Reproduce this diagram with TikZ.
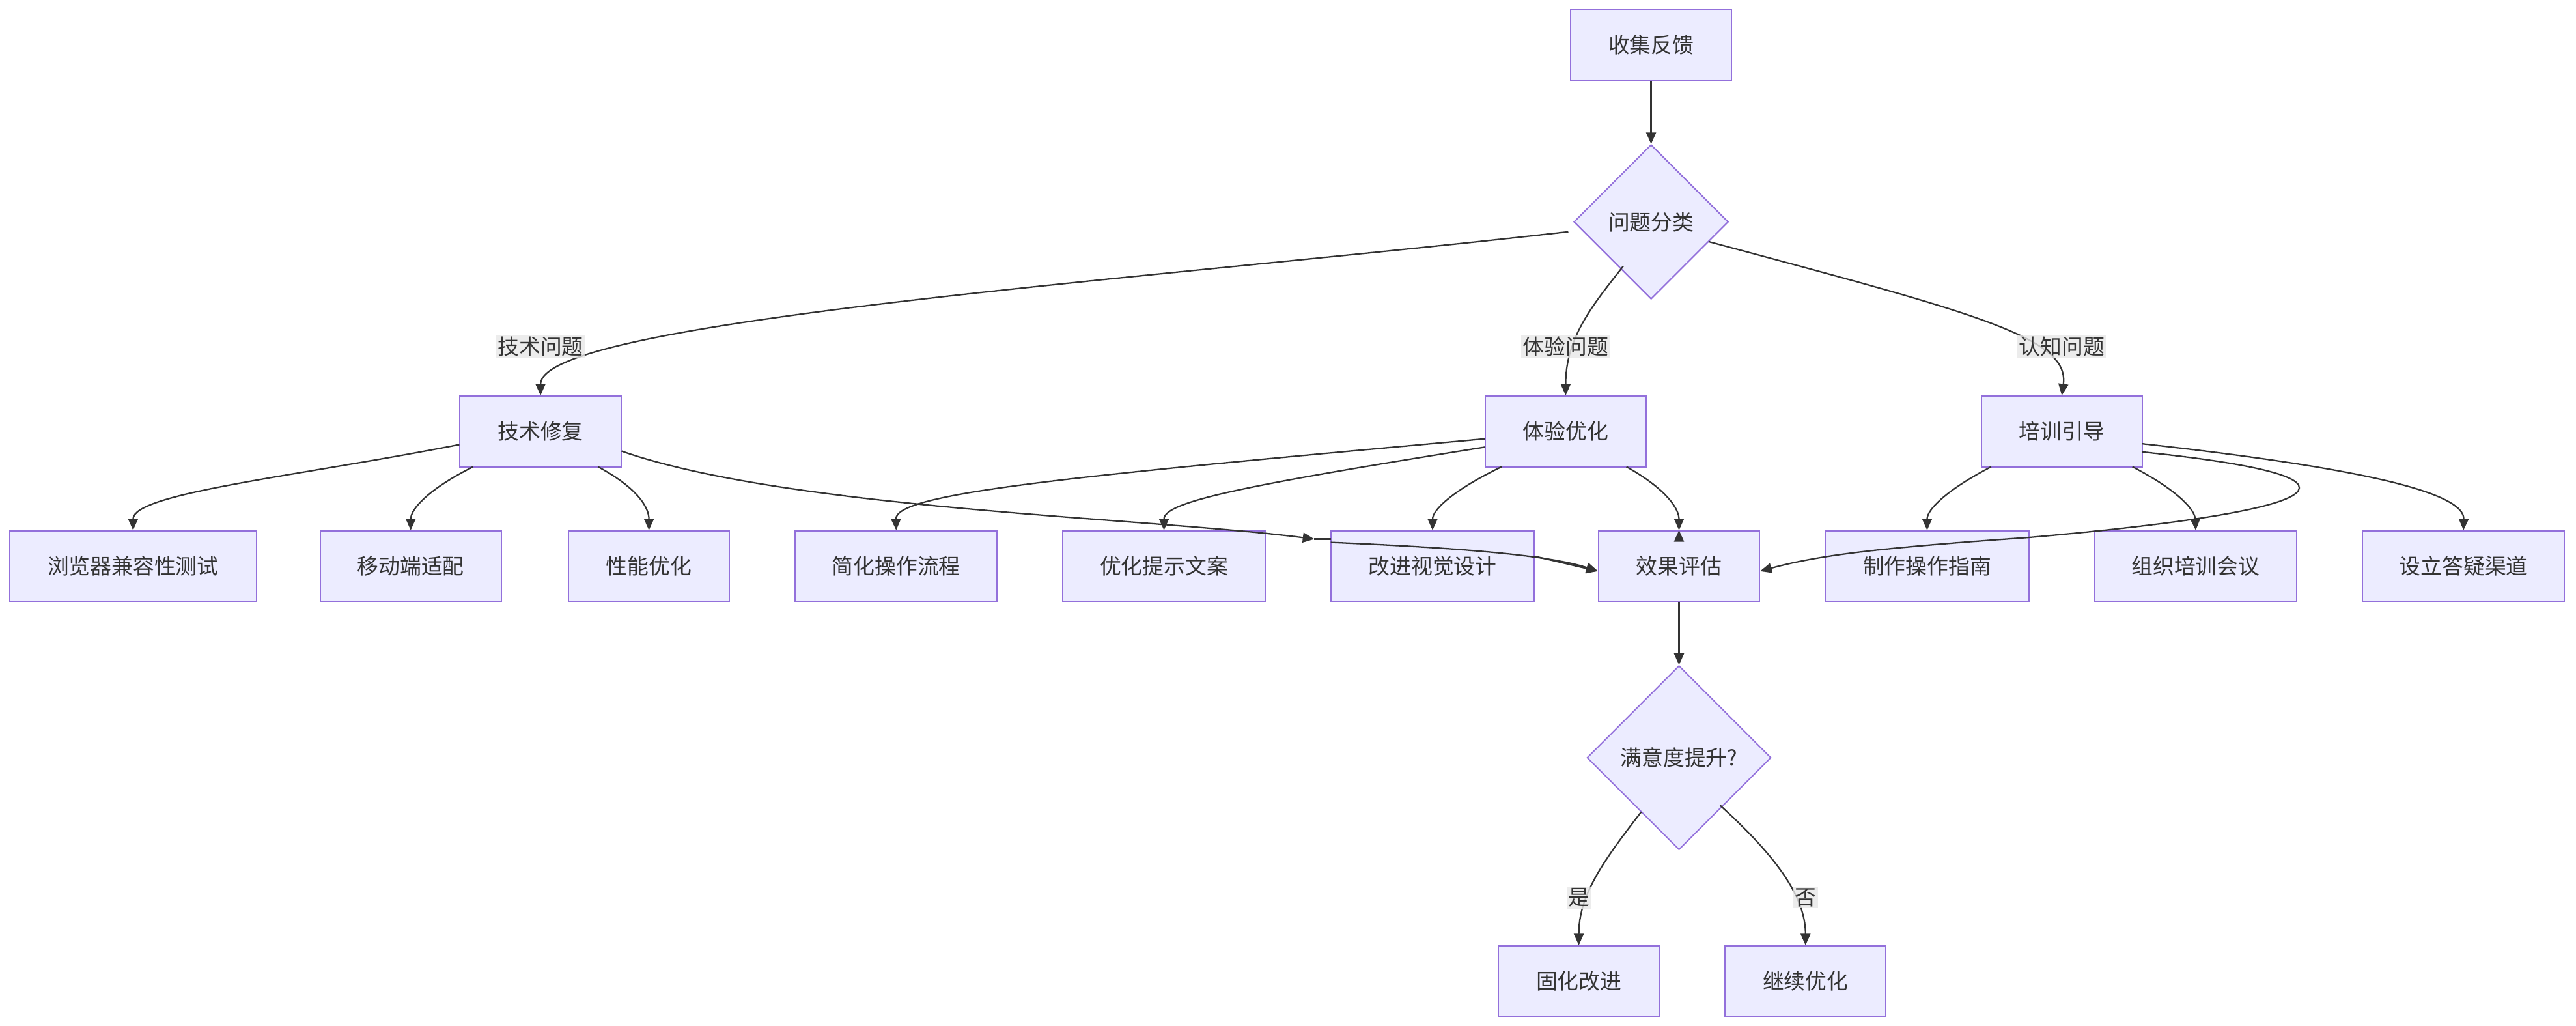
\documentclass[tikz,border=0pt]{standalone}
\usepackage{fontspec}
\setmainfont{Noto Sans CJK SC}
\usetikzlibrary{shapes.geometric,arrows.meta}
\definecolor{nf}{HTML}{ECECFF}
\definecolor{nb}{HTML}{9370DB}
\definecolor{ln}{HTML}{333333}
\definecolor{lb}{HTML}{E8E8E8}
\begin{document}
\begin{tikzpicture}[x=1pt,y=-1pt,
 box/.style={draw=nb,fill=nf,line width=0.8pt,minimum height=43pt,font=\fontsize{13}{15}\selectfont,text=ln,inner sep=0pt},
 dia/.style={draw=nb,fill=nf,line width=0.8pt,diamond,aspect=1,font=\fontsize{13}{15}\selectfont,text=ln,inner sep=0pt},
 lbl/.style={fill=lb,fill opacity=0.8,text opacity=1,font=\fontsize{13}{15}\selectfont,text=ln,inner sep=1pt},
 e/.style={draw=ln,line width=0.9pt,-{Triangle[length=7pt,width=6pt]}}]
\useasboundingbox[fill=white] (0,0) rectangle (1568,624);
\node[box,minimum width=98pt] (a) at (1005,27.5) {收集反馈};
\node[dia,minimum size=94pt] (q) at (1005,135) {问题分类};
\node[box,minimum width=98pt] (t) at (329,262.5) {技术修复};
\node[box,minimum width=98pt] (x) at (953,262.5) {体验优化};
\node[box,minimum width=98pt] (p) at (1255,262.5) {培训引导};
\node[box,minimum width=150pt] (t1) at (81,344.5) {浏览器兼容性测试};
\node[box,minimum width=110pt] (t2) at (250,344.5) {移动端适配};
\node[box,minimum width=98pt] (t3) at (395,344.5) {性能优化};
\node[box,minimum width=123pt] (x1) at (545.5,344.5) {简化操作流程};
\node[box,minimum width=123pt] (x2) at (708.5,344.5) {优化提示文案};
\node[box,minimum width=124pt] (x3) at (872,344.5) {改进视觉设计};
\node[box,minimum width=124pt] (p1) at (1173,344.5) {制作操作指南};
\node[box,minimum width=123pt] (p2) at (1336.5,344.5) {组织培训会议};
\node[box,minimum width=123pt] (p3) at (1499.5,344.5) {设立答疑渠道};
\node[dia,minimum size=112pt] (s) at (1022,461) {满意度提升?};
\node[box,minimum width=98pt] (g) at (961,597) {固化改进};
\node[box,minimum width=98pt] (c) at (1099,597) {继续优化};
% technical -> evaluation (behind)
\draw[e] (t.east) ++(0,12) .. controls (480,310) and (700,315) .. (800,328) coordinate (m1);
\node[box,minimum width=98pt] (ev) at (1022,344.5) {效果评估};
\node[box,minimum width=124pt] at (872,344.5) {改进视觉设计};
\node[box,minimum width=124pt] at (1173,344.5) {制作操作指南};
\draw[e] (ev.north) ++(0,0);
\draw[e] (a) -- (q);
\draw[e] (q.west) ++(-3,6) .. controls (700,170) and (329,195) .. (t.north);
\draw[e] (988,162) .. controls (970,185) and (953,205) .. (x.north);
\draw[e] (1040,147) .. controls (1200,190) and (1260,205) .. (p.north);
\node[lbl] at (329,211) {技术问题};
\node[lbl] at (953,211) {体验问题};
\node[lbl] at (1255,211) {认知问题};
\draw[e] (t.west) ++(0,8) .. controls (180,290) and (81,300) .. (t1.north);
\draw[e] (288,284) .. controls (260,298) and (250,310) .. (t2.north);
\draw[e] (364,284) .. controls (390,298) and (395,310) .. (t3.north);
\draw[e] (904,267) .. controls (650,290) and (545,300) .. (x1.north);
\draw[e] (904,272) .. controls (760,295) and (708.5,305) .. (x2.north);
\draw[e] (914,284) .. controls (885,298) and (872,310) .. (x3.north);
\draw[e] (990,284) .. controls (1015,298) and (1022,310) .. (ev.north);
\draw[e] (x3.east) ++(0,-6) -- ([yshift=-3pt]ev.west);
\draw[ln,line width=0.9pt] (810,328) -- (m1);
\draw[e] (m1) ++(10,2) .. controls (880,333) and (940,337) .. ([yshift=-3pt]ev.west);
\draw[e] (1212,284) .. controls (1185,298) and (1173,310) .. (p1.north);
\draw[e] (1298,284) .. controls (1325,298) and (1336,310) .. (p2.north);
\draw[e] (1304,270) .. controls (1440,285) and (1500,300) .. (p3.north);
\draw[e] (1304,275) .. controls (1450,290) and (1430,310) .. (1235,327) .. controls (1150,333) and (1110,337) .. ([yshift=-3pt]ev.east);
\draw[e] (ev) -- (s);
\draw[e] (999,494) .. controls (975,525) and (961,545) .. (g.north);
\draw[e] (1047,490) .. controls (1080,520) and (1099,545) .. (c.north);
\node[lbl] at (961,546) {是};
\node[lbl] at (1099,546) {否};
\end{tikzpicture}
\end{document}
